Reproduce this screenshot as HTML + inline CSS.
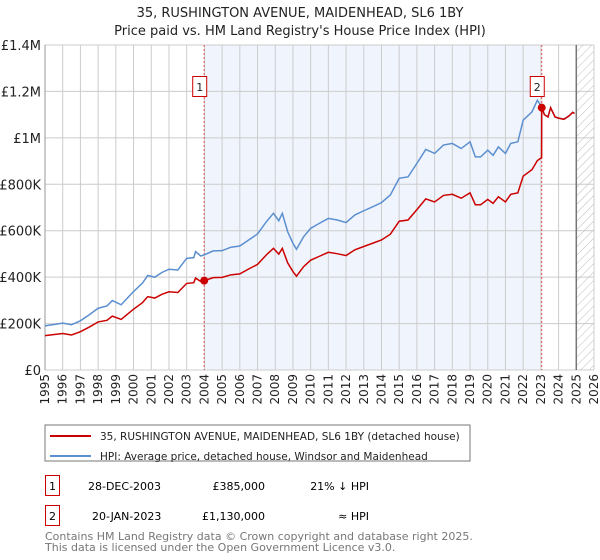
<!DOCTYPE html>
<html><head><meta charset="utf-8">
<style>
body{margin:0;background:#fff;font-family:"Liberation Sans","DejaVu Sans",sans-serif;}
#wrap{position:relative;width:600px;height:560px;overflow:hidden}
svg text{font-family:"DejaVu Sans","Liberation Sans",sans-serif;}
</style></head>
<body>
<div id="wrap">
<svg id="chart" width="600" height="560">
<defs>
<pattern id="hatch" width="6" height="6" patternUnits="userSpaceOnUse" patternTransform="rotate(45)">
<line x1="0" y1="0" x2="0" y2="6" stroke="#bbb" stroke-width="1"/>
</pattern>
</defs>
<text x="300" y="17" text-anchor="middle" font-size="13" fill="#222">35, RUSHINGTON AVENUE, MAIDENHEAD, SL6 1BY</text>
<text x="300" y="35" text-anchor="middle" font-size="13" fill="#222">Price paid vs. HM Land Registry's House Price Index (HPI)</text>
<g id="plot"></g>
<rect x="45" y="425" width="425" height="36" fill="#fff" stroke="#777"/>
<line x1="50" y1="436" x2="91" y2="436" stroke="#cc0000" stroke-width="2"/>
<text x="100" y="440" font-size="10.5" fill="#222">35, RUSHINGTON AVENUE, MAIDENHEAD, SL6 1BY (detached house)</text>
<line x1="50" y1="456" x2="91" y2="456" stroke="#5b8fd0" stroke-width="2"/>
<text x="100" y="460" font-size="10.5" fill="#222">HPI: Average price, detached house, Windsor and Maidenhead</text>
<g>
<rect x="45.5" y="475.5" width="14" height="20" fill="#fff" stroke="#cc0000"/>
<text x="52.5" y="490" text-anchor="middle" font-size="11">1</text>
<text x="88" y="490" font-size="11">28-DEC-2003</text>
<text x="265" y="490" text-anchor="end" font-size="11">£385,000</text>
<text x="369" y="490" text-anchor="end" font-size="11">21% ↓ HPI</text>
</g>
<g>
<rect x="45.5" y="505.5" width="14" height="20" fill="#fff" stroke="#cc0000"/>
<text x="52.5" y="520" text-anchor="middle" font-size="11">2</text>
<text x="92" y="520" font-size="11">20-JAN-2023</text>
<text x="265" y="520" text-anchor="end" font-size="11">£1,130,000</text>
<text x="369" y="520" text-anchor="end" font-size="11">≈ HPI</text>
</g>
<text x="45" y="540" font-size="11" fill="#777">Contains HM Land Registry data © Crown copyright and database right 2025.</text>
<text x="45" y="551" font-size="11" fill="#777">This data is licensed under the Open Government Licence v3.0.</text>
</svg>
</div>
<script>
const yearTicks=[1995,1996,1997,1998,1999,2000,2001,2002,2003,2004,2005,2006,2007,2008,2009,2010,2011,2012,2013,2014,2015,2016,2017,2018,2019,2020,2021,2022,2023,2024,2025,2026];
const valueTicks=[0,200000,400000,600000,800000,1000000,1200000,1400000];
const valueTickLabels=["£0","£200K","£400K","£600K","£800K","£1M","£1.2M","£1.4M"];
const hpiYears=[1995,1996,1996.5,1997,1997.5,1998,1998.5,1998.8,1999.3,2000,2000.5,2000.8,2001.2,2001.6,2002,2002.5,2003,2003.4,2003.5,2003.8,2004,2004.5,2005,2005.5,2006,2006.5,2007,2007.5,2007.9,2008.2,2008.4,2008.7,2009,2009.2,2009.6,2010,2010.5,2011,2011.5,2012,2012.5,2013,2013.5,2014,2014.5,2015,2015.5,2016,2016.5,2017,2017.5,2018,2018.5,2019,2019.3,2019.6,2020,2020.3,2020.6,2021,2021.3,2021.7,2022,2022.5,2022.8,2023.05,2023.2,2023.4,2023.55,2023.8,2024,2024.3,2024.6,2024.8,2024.9];
const hpiValues=[190,202,195,212,238,266,276,299,281,338,374,407,400,420,434,431,481,484,510,491,496,513,514,529,534,560,586,639,675,643,675,596,546,520,574,610,632,653,646,635,668,686,703,721,754,826,832,890,950,933,969,976,954,983,918,918,947,925,961,933,976,983,1076,1112,1162,1133,1100,1090,1130,1090,1085,1080,1095,1110,1105];
const priceYears=[1995,1996,1996.5,1997,1997.5,1998,1998.5,1998.8,1999.3,2000,2000.5,2000.8,2001.2,2001.6,2002,2002.5,2003,2003.4,2003.5,2003.8,2003.99,2004.5,2005,2005.5,2006,2006.5,2007,2007.5,2007.9,2008.2,2008.4,2008.7,2009,2009.2,2009.6,2010,2010.5,2011,2011.5,2012,2012.5,2013,2013.5,2014,2014.5,2015,2015.5,2016,2016.5,2017,2017.5,2018,2018.5,2019,2019.3,2019.6,2020,2020.3,2020.6,2021,2021.3,2021.7,2022,2022.5,2022.8,2023.04,2023.05,2023.2,2023.4,2023.55,2023.8,2024,2024.3,2024.6,2024.8,2024.9];
const priceValues=[148,157,151,165,185,207,214,232,218,262,290,316,310,326,337,334,373,376,396,381,385,398,399,410,414,435,455,496,524,499,524,462,424,404,445,473,490,507,501,493,518,532,546,560,585,641,646,691,737,724,752,757,740,763,712,712,735,718,746,724,757,763,835,863,902,915,1130,1100,1090,1130,1090,1085,1080,1095,1110,1105];
const saleYears=[2003.99,2023.05];
const saleValues=[385,1130];
const saleLabels=["1","2"];

const X0=45,X1=594,Y0=370,Y1=45;
const xs=y=>X0+(y-1995)/(2026-1995)*(X1-X0);
const ys=v=>Y0-v/1400000*(Y0-Y1);
const NS="http://www.w3.org/2000/svg";
const g=document.getElementById('plot');
function mk(tag,attrs,parent){const e=document.createElementNS(NS,tag);for(const k in attrs)e.setAttribute(k,attrs[k]);(parent||g).appendChild(e);return e;}

const bg=mk('rect',{x:X0,y:Y1,width:X1-X0,height:Y0-Y1,fill:'#fff'});


const shade=mk('rect',{x:xs(saleYears[0]),y:Y1,width:xs(saleYears[1])-xs(saleYears[0]),height:Y0-Y1,fill:'#f0f5fd'});


yearTicks.forEach(t=>{const l=mk('line',{x1:xs(t),x2:xs(t),y1:Y1,y2:Y0,stroke:'#ccc','stroke-width':1});


const tx=mk('text',{x:0,y:0,'font-size':12,fill:'#222','text-anchor':'end',transform:`translate(${xs(t)+4},${Y0+4}) rotate(-90)`});tx.textContent=t;

});
valueTicks.forEach((v,i)=>{const l=mk('line',{x1:X0,x2:X1,y1:ys(v),y2:ys(v),stroke:'#ccc','stroke-width':1});


const tx=mk('text',{x:X0-4,y:ys(v)+5,'font-size':13,fill:'#222','text-anchor':'end'});tx.textContent=valueTickLabels[i];

});
const hx=xs(2025);
const hatch=mk('rect',{x:hx,y:Y1,width:X1-hx,height:Y0-Y1,fill:'url(#hatch)'});


const fl=mk('line',{x1:hx,x2:hx,y1:Y1,y2:Y0,stroke:'#777','stroke-width':1.5});


const ax=mk('line',{x1:X0,x2:X0,y1:Y1,y2:Y0,stroke:'#999'});


saleYears.forEach((sy,i)=>{const l=mk('line',{x1:xs(sy),x2:xs(sy),y1:Y1,y2:Y0,stroke:'#e05050','stroke-width':1,'stroke-dasharray':'2,2'});


const r=mk('rect',{x:xs(sy)-11.5,y:76.5,width:14,height:20,fill:'#fff',stroke:'#cc0000'});


const t=mk('text',{x:xs(sy)-4.5,y:91,'font-size':11,'text-anchor':'middle',fill:'#222'});t.textContent=saleLabels[i];

});
const hp=mk('polyline',{points:hpiYears.map((y,i)=>xs(y)+','+ys(hpiValues[i]*1000)).join(' '),fill:'none',stroke:'#5b8fd0','stroke-width':1.5});


const pp=mk('polyline',{points:priceYears.map((y,i)=>xs(y)+','+ys(priceValues[i]*1000)).join(' '),fill:'none',stroke:'#cc0000','stroke-width':1.5});


saleYears.forEach((sy,i)=>{const c=mk('circle',{cx:xs(sy),cy:ys(saleValues[i]*1000),r:4,fill:'#cc0000'});

});
</script>
</body></html>
